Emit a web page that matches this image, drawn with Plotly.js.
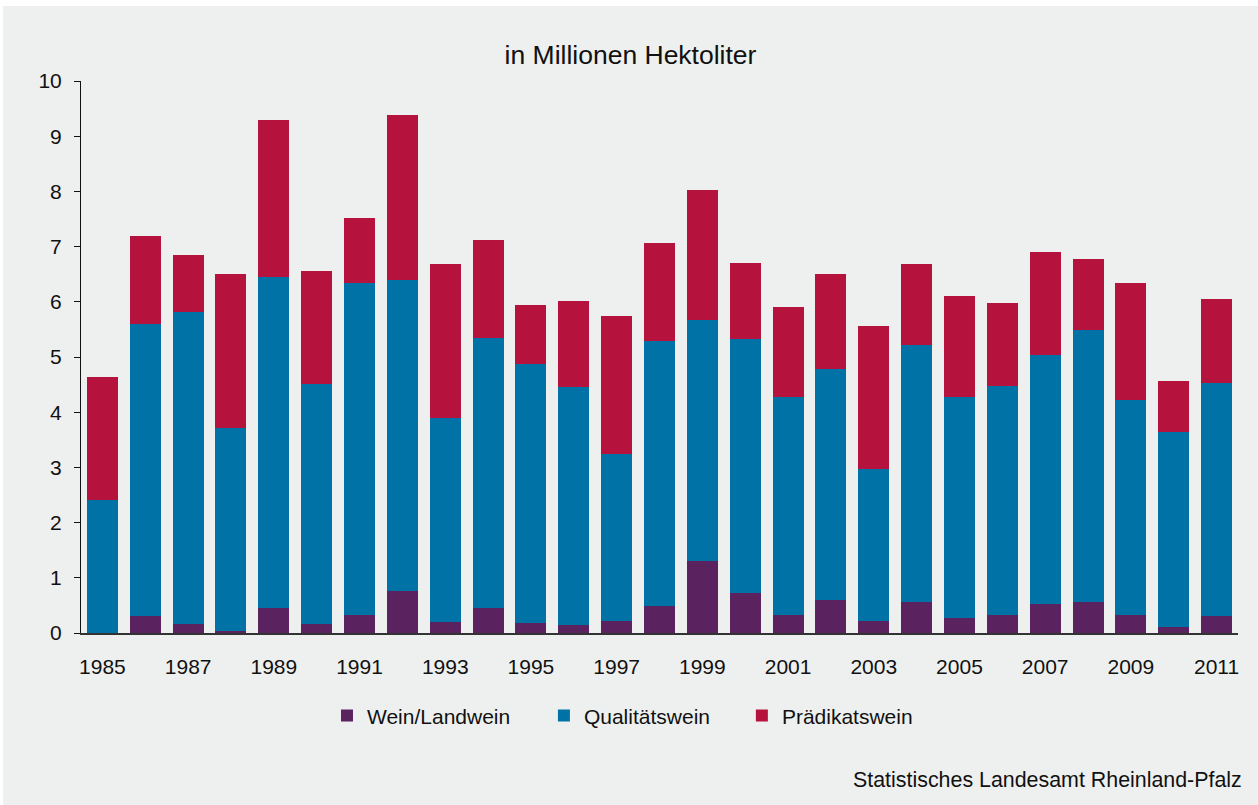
<!DOCTYPE html>
<html>
<head>
<meta charset="utf-8">
<script src="https://cdn.plot.ly/plotly-3.0.1.min.js"></script>
<style>
  html, body { margin: 0; padding: 0; background: #ffffff; overflow: hidden; }
  #chart { position: absolute; left: 3px; top: 6px; width: 1255px; height: 799px; }
</style>
</head>
<body>
<div id="chart"></div>
<script>
// Data (million hectolitres)
const years = [1985,1986,1987,1988,1989,1990,1991,1992,1993,1994,1995,1996,1997,1998,1999,2000,2001,2002,2003,2004,2005,2006,2007,2008,2009,2010,2011];
const weinLandwein   = [0.00,0.30,0.17,0.03,0.46,0.17,0.33,0.77,0.20,0.46,0.19,0.15,0.22,0.49,1.31,0.73,0.33,0.59,0.22,0.57,0.28,0.33,0.53,0.57,0.33,0.11,0.30];
const qualitaetswein = [2.41,5.30,5.65,3.68,5.99,4.34,6.01,5.62,3.70,4.89,4.69,4.31,3.03,4.80,4.36,4.59,3.95,4.19,2.75,4.65,4.00,4.15,4.51,4.92,3.90,3.54,4.23];
const praedikatswein = [2.23,1.59,1.03,2.79,2.85,2.04,1.17,2.99,2.78,1.77,1.06,1.55,2.49,1.77,2.35,1.38,1.62,1.72,2.59,1.46,1.82,1.50,1.86,1.28,2.11,0.91,1.52];
const seriesNames = ["Wein/Landwein", "Qualitätswein", "Prädikatswein"];
const tickYears = [1985,1987,1989,1991,1993,1995,1997,1999,2001,2003,2005,2007,2009,2011];
const yTicks = [0,1,2,3,4,5,6,7,8,9,10];

const colors = ["#5b2260", "#0072a6", "#b5133d"];
const FONT = "'Liberation Sans', Arial, sans-serif";
const legendIds = ["legend", "legend2", "legend3"];
const legendX = [0.2126, 0.4001, 0.5712];

const traces = [weinLandwein, qualitaetswein, praedikatswein].map((vals, i) => ({
  type: "bar",
  x: years,
  y: vals,
  name: seriesNames[i],
  legend: legendIds[i],
  marker: { color: colors[i], line: { width: 0 } },
  hoverinfo: "x+y+name"
}));

const layout = {
  width: 1255,
  height: 799,
  paper_bgcolor: "#eef0ef",
  plot_bgcolor: "#eef0ef",
  barmode: "stack",
  bargap: 0.276,
  showlegend: true,
  font: { family: FONT, size: 21, color: "#111111" },
  margin: { l: 78, r: 20, t: 75, b: 172 },
  title: {
    text: "in Millionen Hektoliter",
    font: { family: FONT, size: 26.5, color: "#111111" },
    x: 0.5, xanchor: "center",
    xref: "container", yref: "container",
    y: 1 - 49 / 799, yanchor: "middle"
  },
  xaxis: {
    range: [1984.5, 2011.5],
    tickvals: tickYears,
    ticktext: tickYears.map(String),
    ticks: "",
    ticklabelstandoff: 14,
    showgrid: false,
    zeroline: false,
    showline: true,
    linecolor: "#333333",
    linewidth: 1.5,
    tickfont: { family: FONT, size: 21, color: "#111111" },
    fixedrange: true
  },
  yaxis: {
    range: [0, 10],
    tickvals: yTicks,
    ticks: "outside",
    ticklen: 6,
    tickwidth: 1,
    tickcolor: "#111111",
    ticklabelstandoff: 8,
    showgrid: false,
    zeroline: false,
    showline: true,
    linecolor: "#111111",
    linewidth: 1,
    tickfont: { family: FONT, size: 21, color: "#111111" },
    fixedrange: true
  },
  annotations: [{
    text: "Statistisches Landesamt Rheinland-Pfalz",
    xref: "paper", yref: "paper",
    x: 1.0052, xanchor: "right",
    y: -0.266, yanchor: "middle",
    showarrow: false,
    font: { family: FONT, size: 21.4, color: "#111111" }
  }]
};

legendIds.forEach((id, i) => {
  layout[id] = {
    orientation: "h",
    x: legendX[i], xanchor: "left",
    y: -0.150, yanchor: "middle",
    bgcolor: "rgba(0,0,0,0)",
    borderwidth: 0,
    font: { family: FONT, size: 21, color: "#111111" },
    itemclick: false,
    itemdoubleclick: false
  };
});

Plotly.newPlot("chart", traces, layout, { displayModeBar: false, staticPlot: true });
</script>
</body>
</html>
